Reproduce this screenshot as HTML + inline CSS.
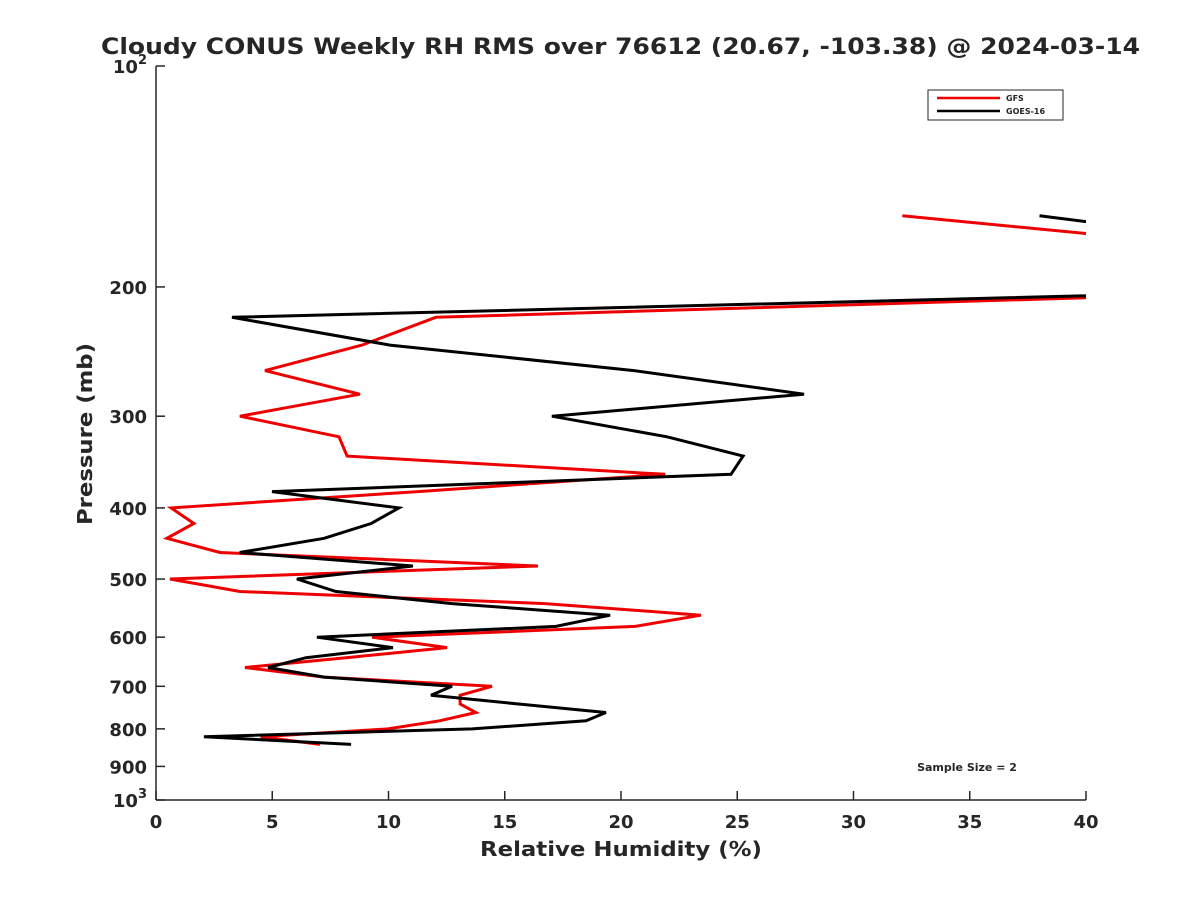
<!DOCTYPE html>
<html><head><meta charset="utf-8"><style>
body{margin:0;background:#fff;}
svg text{font-family:"DejaVu Sans","Liberation Sans",sans-serif;font-weight:bold;fill:#262626;}
</style></head><body>
<svg id="chart" width="1200" height="900">
<defs><clipPath id="pc"><rect x="156" y="66" width="930" height="734"/></clipPath></defs>
<text x="101" y="54" font-size="22" textLength="1039" lengthAdjust="spacingAndGlyphs" fill="#000">Cloudy CONUS Weekly RH RMS over 76612 (20.67, -103.38) @ 2024-03-14</text>
<g id="axes"></g>
<g id="series" clip-path="url(#pc)"></g>
<text x="480" y="856" font-size="20" textLength="282" lengthAdjust="spacingAndGlyphs">Relative Humidity (%)</text>
<text transform="translate(92,525) rotate(-90)" font-size="20" textLength="182" lengthAdjust="spacingAndGlyphs">Pressure (mb)</text>
<g>
<rect x="928" y="90" width="135" height="30" fill="#fff" stroke="#262626" stroke-width="1"/>
<line x1="937" y1="98" x2="1000" y2="98" stroke="#e00" stroke-width="2.5"/>
<text x="1006" y="101" font-size="8">GFS</text>
<line x1="937" y1="111" x2="1000" y2="111" stroke="#000" stroke-width="2.5"/>
<text x="1006" y="114" font-size="8">GOES-16</text>
</g>
<text x="967" y="771" font-size="11" text-anchor="middle" fill="#000">Sample Size = 2</text>
</svg>
<script>
const pressures=[160,180,190,200,220,240,260,280,300,320,340,360,380,400,420,440,460,480,500,520,540,560,580,600,620,640,660,680,700,720,740,760,780,800,820,840];
const gfsValues=[32.1,48.9,null,55.3,12.04,8.86,4.69,8.77,3.61,7.87,8.22,21.9,11.27,0.65,1.63,0.47,2.75,16.43,0.6,3.61,16.73,23.44,20.6,9.29,12.52,8.17,3.83,7.23,14.45,13.08,13.08,13.76,12.2,9.98,4.5,7.05];
const goesValues=[38.0,50.9,null,55.0,3.27,10.06,20.56,27.87,17.03,21.98,25.25,24.73,4.99,10.45,9.25,7.23,3.6,11.05,6.06,7.74,12.73,19.53,17.2,6.92,10.19,6.45,4.82,7.23,12.73,11.83,15.6,19.35,18.5,13.6,2.06,8.39];
const xTicks=[0,5,10,15,20,25,30,35,40];
const yTicks=[200,300,400,500,600,700,800,900];
const NS="http://www.w3.org/2000/svg";
const X0=156,X1=1086,Y0=66,Y1=800;
function xs(v){return X0+(v-0)/(40-0)*(X1-X0);}
function ys(p){return Y0+(Math.log10(p)-2)*(Y1-Y0);}
function mk(tag,attrs,parent){const e=document.createElementNS(NS,tag);for(const k in attrs)e.setAttribute(k,attrs[k]);parent.appendChild(e);return e;}
const ax=document.getElementById('axes');
let l=mk('line',{x1:X0,y1:Y0,x2:X0,y2:Y1,stroke:'#262626','stroke-width':1.5},ax);


l=mk('line',{x1:X0,y1:Y1,x2:X1,y2:Y1,stroke:'#262626','stroke-width':1.5},ax);


xTicks.forEach(v=>{
  const x=xs(v);
  const t=mk('line',{x1:x,y1:Y1,x2:x,y2:Y1-9,stroke:'#262626','stroke-width':1.5},ax);
  
  
  const tx=mk('text',{x:x,y:Y1+28,'font-size':18,'text-anchor':'middle'},ax);
  tx.textContent=v;
  
  
});
[100].concat(yTicks).concat([1000]).forEach(p=>{
  const y=ys(p);
  const t=mk('line',{x1:X0,y1:y,x2:X0+9,y2:y,stroke:'#262626','stroke-width':1.5},ax);
  
  
  const tx=mk('text',{x:X0-9,y:y+7,'font-size':18,'text-anchor':'end'},ax);
  if(p===100||p===1000){
    tx.textContent='10';
    const s=mk('tspan',{dy:-9,'font-size':13},tx);s.textContent=p===100?'2':'3';
  } else tx.textContent=p;
  
  
});
const sg=document.getElementById('series');
function draw(vals,color,name){
  let d='',pen=false;
  vals.forEach((v,i)=>{
    if(v===null){pen=false;return;}
    d+=(pen?'L':'M')+xs(v).toFixed(1)+' '+ys(pressures[i]).toFixed(1)+' ';pen=true;
  });
  const p=mk('path',{d:d,fill:'none',stroke:color,'stroke-width':3,'stroke-linejoin':'miter'},sg);
  
  
}
draw(gfsValues,'#e00','gfs-line');
draw(goesValues,'#000','goes16-line');
</script>
</body></html>
